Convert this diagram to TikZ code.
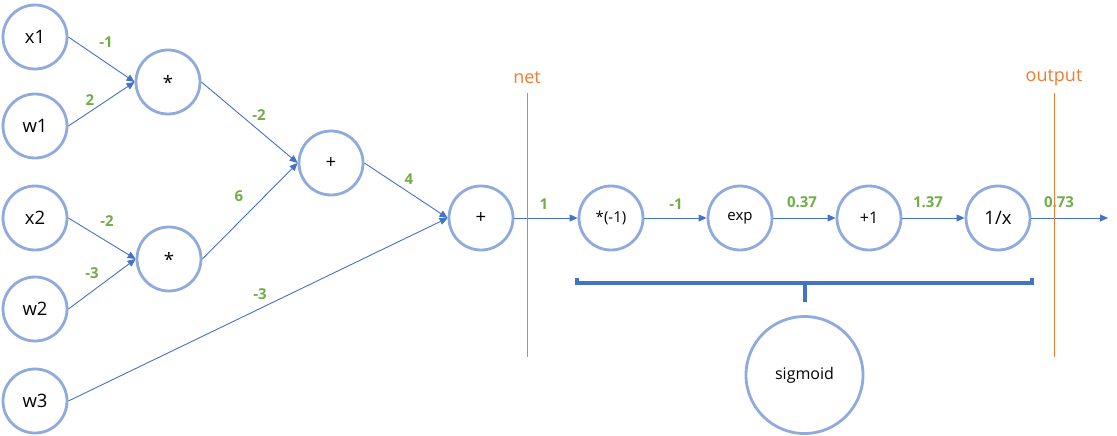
\documentclass[tikz,border=0pt]{standalone}
\usepackage{fontspec}
\setmainfont{Open Sans}
\usetikzlibrary{arrows.meta}
\definecolor{ringblue}{RGB}{143,170,220}
\definecolor{lineblue}{RGB}{68,114,196}
\definecolor{valgreen}{RGB}{112,173,71}
\definecolor{markorange}{RGB}{237,125,49}

\begin{document}
\begin{tikzpicture}[x=1pt,y=-1pt,
  gate/.style={circle,draw=ringblue,line width=2.8pt,minimum size=64pt,inner sep=0pt,font=\fontsize{15}{17}\selectfont},
  biggate/.style={gate,font=\fontsize{18.5}{21}\selectfont},
  flow/.style={draw=lineblue,line width=0.9pt,-{Triangle[length=8pt,width=7pt]}},
  wlabel/.style={text=valgreen,font=\fontsize{15}{17}\selectfont\bfseries},
  tag/.style={text=markorange,font=\fontsize{18}{21}\selectfont},
  divider/.style={draw=markorange,line width=1pt},
  brace/.style={draw=lineblue,line width=3.2pt}]
  \useasboundingbox (0,0) rectangle (1117,436);

% input nodes
  \foreach \n/\y in {x1/37,w1/126,x2/218,w2/309,w3/401}{
    \node[biggate] (\n) at (35,\y) {\n};
  }

% multiply and add gates
  \node[biggate] (mula) at (168,82) {*};
  \node[biggate] (mulb) at (169,259) {*};
  \node[biggate] (adda) at (331,163) {+};
  \node[biggate] (addb) at (481,218) {+};

% sigmoid chain
  \node[gate] (neg) at (611,218) {*(-1)};
  \node[gate] (expo) at (740,218) {exp};
  \node[gate,font=\fontsize{16}{18}\selectfont] (inc) at (869,218) {+1};
  \node[biggate] (inv) at (998,218) {1/x};
  \coordinate (out) at (1108,218);

  \foreach \a/\b in {x1/mula,w1/mula,x2/mulb,w2/mulb,mula/adda,mulb/adda,adda/addb,w3/addb,addb/neg,neg/expo,expo/inc,inc/inv}{
    \draw[flow] (\a.east) -- (\b.west);
  }
  \draw[flow] (inv.east) -- (out);

% values on the edges
  \foreach \t/\x/\y [count=\i] in {-1/106/42,2/90/100,-2/259/115,6/239/196,-2/107/221,-3/92/273,-3/260/294,4/409/179,1/544/204,-1/676/204,0.37/802/202,1.37/928/202,0.73/1059/202}{
    \node[wlabel] (val\i) at (\x,\y) {\t};
  }

% net / output markers
  \node[tag] (netlbl) at (527,78) {net};
  \draw[divider] (527,93) -- (527,357);
  \node[tag] (outlbl) at (1054,78) {output};
  \draw[divider] (1054,93) -- (1054,357);

% sigmoid group
  \draw[brace] (577,278) -- (577,283) -- (1032,283) -- (1032,278);
  \draw[brace] (805,283) -- (805,302);
  \node[gate,minimum size=117pt,font=\fontsize{16}{18}\selectfont] (sig) at (804.5,375) {sigmoid};

\end{tikzpicture}
\end{document}
